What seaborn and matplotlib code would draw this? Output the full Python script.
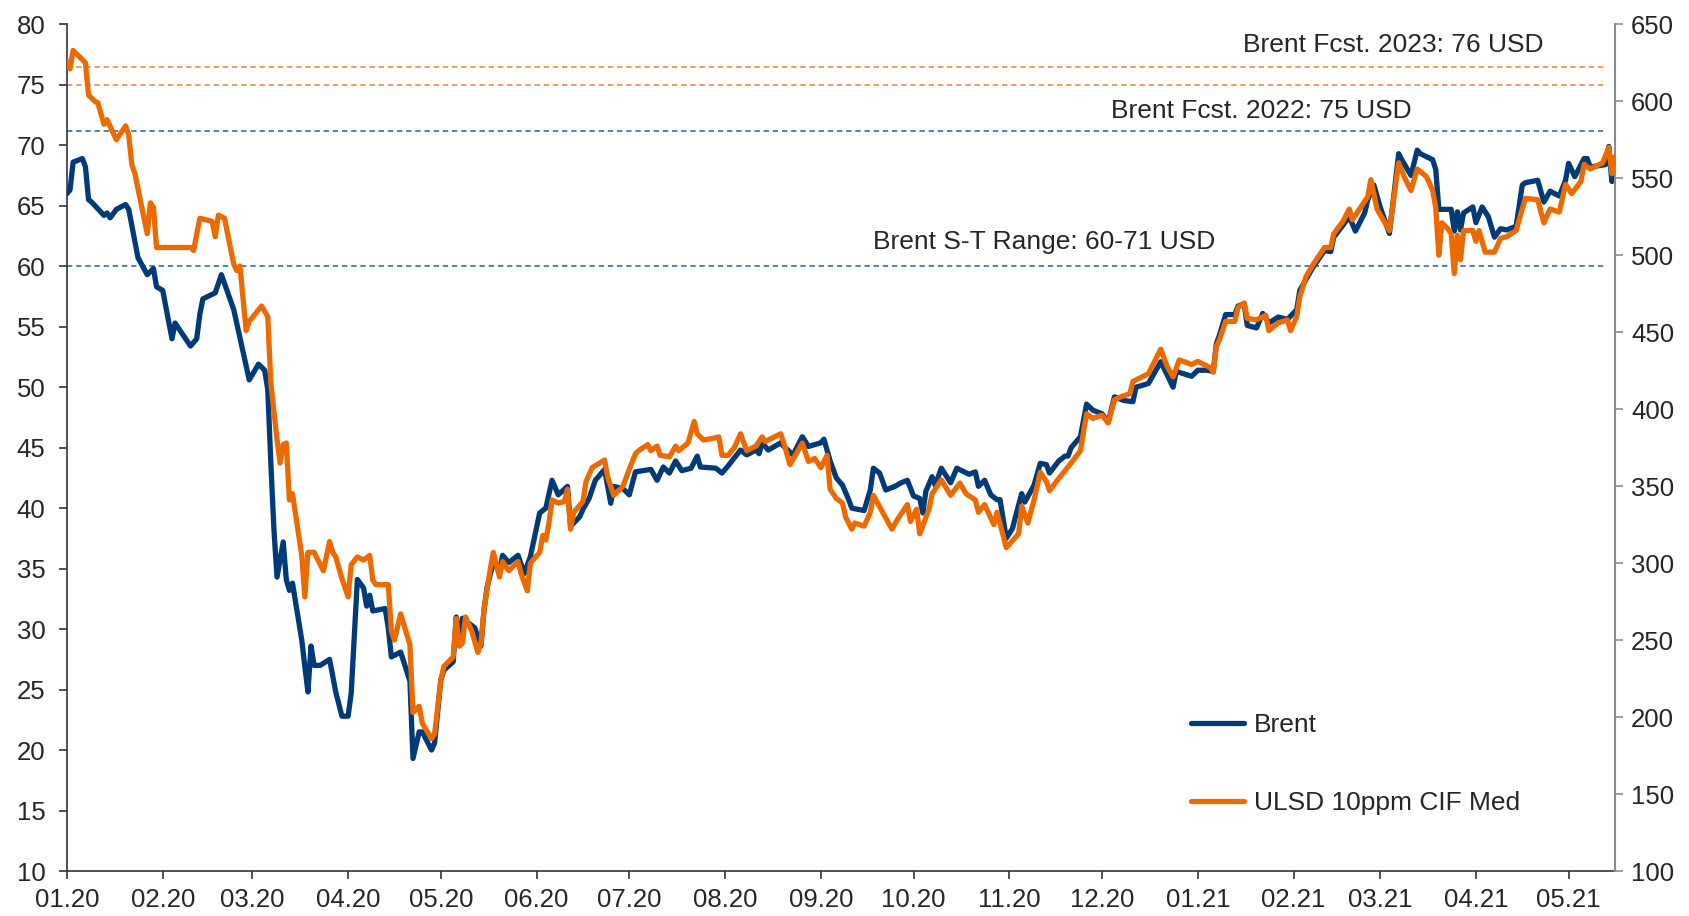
import pandas as pd
import seaborn as sns
import matplotlib.pyplot as plt
import matplotlib.dates as mdates

# Brent, USD/bbl (left axis)
brent_dates = [
    "2020-01-01", "2020-01-02", "2020-01-03", "2020-01-06", "2020-01-07", "2020-01-08", "2020-01-09",
    "2020-01-13", "2020-01-14", "2020-01-15", "2020-01-17", "2020-01-20", "2020-01-21", "2020-01-24",
    "2020-01-27", "2020-01-29", "2020-01-30", "2020-02-01", "2020-02-04", "2020-02-05", "2020-02-10",
    "2020-02-12", "2020-02-13", "2020-02-14", "2020-02-18", "2020-02-20", "2020-02-24", "2020-02-29",
    "2020-03-03", "2020-03-05", "2020-03-06", "2020-03-07", "2020-03-08", "2020-03-09", "2020-03-11",
    "2020-03-12", "2020-03-13", "2020-03-14", "2020-03-17", "2020-03-18", "2020-03-19", "2020-03-20",
    "2020-03-21", "2020-03-23", "2020-03-26", "2020-03-28", "2020-03-30", "2020-04-01", "2020-04-02",
    "2020-04-04", "2020-04-06", "2020-04-07", "2020-04-08", "2020-04-09", "2020-04-13", "2020-04-14",
    "2020-04-15", "2020-04-18", "2020-04-20", "2020-04-21", "2020-04-22", "2020-04-24", "2020-04-25",
    "2020-04-28", "2020-04-29", "2020-05-01", "2020-05-02", "2020-05-05", "2020-05-06", "2020-05-07",
    "2020-05-08", "2020-05-12", "2020-05-14", "2020-05-15", "2020-05-16", "2020-05-18", "2020-05-20",
    "2020-05-21", "2020-05-23", "2020-05-26", "2020-05-28", "2020-05-30", "2020-06-02", "2020-06-04",
    "2020-06-06", "2020-06-08", "2020-06-11", "2020-06-12", "2020-06-15", "2020-06-16", "2020-06-18",
    "2020-06-20", "2020-06-23", "2020-06-25", "2020-06-26", "2020-06-29", "2020-07-01", "2020-07-03",
    "2020-07-08", "2020-07-10", "2020-07-12", "2020-07-14", "2020-07-16", "2020-07-18", "2020-07-21",
    "2020-07-23", "2020-07-24", "2020-07-29", "2020-07-31", "2020-08-02", "2020-08-06", "2020-08-08",
    "2020-08-11", "2020-08-12", "2020-08-13", "2020-08-15", "2020-08-19", "2020-08-20", "2020-08-23",
    "2020-08-26", "2020-08-28", "2020-09-01", "2020-09-02", "2020-09-04", "2020-09-06", "2020-09-08",
    "2020-09-10", "2020-09-11", "2020-09-13", "2020-09-15", "2020-09-17", "2020-09-18", "2020-09-20",
    "2020-09-22", "2020-09-25", "2020-09-27", "2020-09-29", "2020-10-01", "2020-10-03", "2020-10-04",
    "2020-10-05", "2020-10-07", "2020-10-08", "2020-10-10", "2020-10-13", "2020-10-15", "2020-10-19",
    "2020-10-21", "2020-10-22", "2020-10-24", "2020-10-26", "2020-10-28", "2020-10-29", "2020-10-31",
    "2020-11-02", "2020-11-03", "2020-11-05", "2020-11-06", "2020-11-09", "2020-11-11", "2020-11-13",
    "2020-11-14", "2020-11-17", "2020-11-19", "2020-11-20", "2020-11-21", "2020-11-24", "2020-11-26",
    "2020-11-28", "2020-12-01", "2020-12-03", "2020-12-05", "2020-12-08", "2020-12-11", "2020-12-12",
    "2020-12-16", "2020-12-18", "2020-12-20", "2020-12-24", "2020-12-25", "2020-12-30", "2021-01-01",
    "2021-01-04", "2021-01-06", "2021-01-07", "2021-01-08", "2021-01-10", "2021-01-13", "2021-01-14",
    "2021-01-16", "2021-01-17", "2021-01-20", "2021-01-22", "2021-01-24", "2021-01-27", "2021-01-30",
    "2021-02-02", "2021-02-03", "2021-02-05", "2021-02-07", "2021-02-11", "2021-02-13", "2021-02-14",
    "2021-02-17", "2021-02-19", "2021-02-21", "2021-02-24", "2021-02-25", "2021-02-27", "2021-03-01",
    "2021-03-04", "2021-03-07", "2021-03-08", "2021-03-11", "2021-03-13", "2021-03-14", "2021-03-18",
    "2021-03-19", "2021-03-20", "2021-03-24", "2021-03-25", "2021-03-26", "2021-03-27", "2021-03-28",
    "2021-03-31", "2021-04-01", "2021-04-03", "2021-04-05", "2021-04-07", "2021-04-09", "2021-04-11",
    "2021-04-14", "2021-04-16", "2021-04-17", "2021-04-21", "2021-04-23", "2021-04-25", "2021-04-28",
    "2021-04-30", "2021-05-01", "2021-05-03", "2021-05-06", "2021-05-07", "2021-05-08", "2021-05-13",
    "2021-05-14", "2021-05-15", "2021-05-16",
]
brent_usd = [
    66.0, 66.3, 68.6, 68.9, 68.2, 65.5, 65.3,
    64.2, 64.4, 64.0, 64.7, 65.1, 64.7, 60.7,
    59.3, 59.8, 58.3, 58.0, 54.0, 55.3, 53.4,
    54.0, 56.0, 57.3, 57.8, 59.3, 56.4, 50.6,
    51.9, 51.4, 49.8, 43.7, 38.2, 34.3, 37.2,
    34.1, 33.2, 33.8, 29.1, 26.9, 24.8, 28.6,
    27.0, 27.0, 27.5, 24.8, 22.8, 22.8, 24.7,
    34.1, 33.4, 31.9, 32.8, 31.5, 31.7, 30.1,
    27.7, 28.1, 26.5, 25.7, 19.3, 21.5, 21.5,
    20.0, 20.6, 25.8, 26.6, 27.3, 31.0, 28.8,
    30.9, 30.1, 28.6, 31.6, 33.5, 35.5, 34.8,
    36.1, 35.5, 36.1, 34.6, 36.0, 39.6, 40.0,
    42.3, 41.1, 41.8, 38.5, 39.3, 39.9, 40.8,
    42.3, 43.2, 40.4, 41.8, 41.6, 41.1, 43.0,
    43.2, 42.3, 43.4, 42.9, 43.9, 43.1, 43.3,
    44.3, 43.4, 43.3, 42.9, 43.5, 44.8, 44.4,
    44.8, 44.5, 45.4, 44.8, 45.4, 45.1, 44.4,
    45.9, 45.1, 45.4, 45.7, 43.9, 42.5, 41.9,
    40.7, 40.0, 39.9, 39.8, 41.5, 43.3, 42.9,
    41.5, 41.8, 42.1, 42.3, 41.0, 40.8, 39.6,
    41.4, 42.6, 41.9, 43.3, 42.1, 43.3, 42.8,
    43.0, 41.8, 42.3, 41.1, 40.7, 40.7, 37.5,
    38.3, 39.3, 41.2, 40.5, 41.9, 43.7, 43.6,
    42.9, 43.9, 44.3, 44.3, 45.0, 45.9, 48.6,
    48.1, 47.8, 47.1, 49.2, 48.9, 48.8, 50.0,
    50.3, 51.2, 52.1, 50.0, 51.3, 50.9, 51.4,
    51.4, 51.3, 53.6, 54.3, 56.0, 56.0, 56.7,
    56.9, 55.1, 54.9, 56.1, 55.3, 55.8, 55.6,
    56.4, 58.0, 58.9, 59.8, 61.3, 61.2, 62.4,
    63.4, 64.1, 62.9, 64.4, 65.5, 66.7, 64.9,
    62.7, 69.3, 68.8, 67.5, 69.6, 69.3, 68.8,
    68.0, 64.7, 64.7, 62.9, 64.5, 63.0, 64.4,
    64.9, 63.6, 64.9, 64.1, 62.4, 63.1, 63.0,
    63.3, 66.7, 66.9, 67.1, 65.3, 66.2, 65.8,
    67.1, 68.5, 67.4, 68.9, 68.9, 68.2, 68.4,
    69.9, 67.0, 68.9,
]

# ULSD 10ppm CIF Med, USD/t (right axis)
ulsd_dates = [
    "2020-01-01", "2020-01-02", "2020-01-03", "2020-01-07", "2020-01-08", "2020-01-10", "2020-01-11",
    "2020-01-13", "2020-01-14", "2020-01-17", "2020-01-20", "2020-01-21", "2020-01-22", "2020-01-23",
    "2020-01-27", "2020-01-28", "2020-01-29", "2020-01-30", "2020-02-01", "2020-02-10", "2020-02-11",
    "2020-02-13", "2020-02-17", "2020-02-18", "2020-02-19", "2020-02-21", "2020-02-24", "2020-02-25",
    "2020-02-26", "2020-02-28", "2020-02-29", "2020-03-04", "2020-03-06", "2020-03-07", "2020-03-09",
    "2020-03-10", "2020-03-11", "2020-03-12", "2020-03-13", "2020-03-14", "2020-03-17", "2020-03-18",
    "2020-03-19", "2020-03-21", "2020-03-24", "2020-03-26", "2020-03-27", "2020-03-28", "2020-03-30",
    "2020-04-01", "2020-04-02", "2020-04-04", "2020-04-06", "2020-04-08", "2020-04-09", "2020-04-10",
    "2020-04-14", "2020-04-15", "2020-04-16", "2020-04-18", "2020-04-21", "2020-04-22", "2020-04-24",
    "2020-04-25", "2020-04-28", "2020-04-29", "2020-05-01", "2020-05-02", "2020-05-05", "2020-05-06",
    "2020-05-07", "2020-05-08", "2020-05-09", "2020-05-11", "2020-05-13", "2020-05-14", "2020-05-15",
    "2020-05-17", "2020-05-18", "2020-05-20", "2020-05-21", "2020-05-23", "2020-05-26", "2020-05-27",
    "2020-05-29", "2020-05-30", "2020-06-02", "2020-06-03", "2020-06-04", "2020-06-05", "2020-06-06",
    "2020-06-08", "2020-06-10", "2020-06-11", "2020-06-12", "2020-06-13", "2020-06-16", "2020-06-17",
    "2020-06-19", "2020-06-23", "2020-06-24", "2020-06-26", "2020-06-29", "2020-07-01", "2020-07-03",
    "2020-07-04", "2020-07-07", "2020-07-08", "2020-07-10", "2020-07-11", "2020-07-14", "2020-07-16",
    "2020-07-17", "2020-07-20", "2020-07-22", "2020-07-23", "2020-07-25", "2020-07-28", "2020-07-30",
    "2020-07-31", "2020-08-02", "2020-08-04", "2020-08-06", "2020-08-08", "2020-08-11", "2020-08-13",
    "2020-08-14", "2020-08-19", "2020-08-20", "2020-08-22", "2020-08-26", "2020-08-28", "2020-08-30",
    "2020-09-01", "2020-09-03", "2020-09-04", "2020-09-06", "2020-09-08", "2020-09-09", "2020-09-11",
    "2020-09-12", "2020-09-15", "2020-09-17", "2020-09-18", "2020-09-21", "2020-09-24", "2020-09-26",
    "2020-09-29", "2020-09-30", "2020-10-02", "2020-10-03", "2020-10-06", "2020-10-07", "2020-10-10",
    "2020-10-13", "2020-10-16", "2020-10-18", "2020-10-21", "2020-10-22", "2020-10-24", "2020-10-27",
    "2020-10-28", "2020-10-30", "2020-10-31", "2020-11-04", "2020-11-05", "2020-11-07", "2020-11-09",
    "2020-11-11", "2020-11-13", "2020-11-14", "2020-11-17", "2020-11-21", "2020-11-24", "2020-11-26",
    "2020-11-28", "2020-12-01", "2020-12-03", "2020-12-05", "2020-12-07", "2020-12-10", "2020-12-11",
    "2020-12-16", "2020-12-20", "2020-12-22", "2020-12-24", "2020-12-26", "2020-12-30", "2021-01-01",
    "2021-01-05", "2021-01-06", "2021-01-07", "2021-01-08", "2021-01-10", "2021-01-13", "2021-01-14",
    "2021-01-16", "2021-01-17", "2021-01-20", "2021-01-23", "2021-01-24", "2021-01-27", "2021-01-30",
    "2021-01-31", "2021-02-02", "2021-02-03", "2021-02-05", "2021-02-07", "2021-02-11", "2021-02-13",
    "2021-02-14", "2021-02-17", "2021-02-19", "2021-02-20", "2021-02-24", "2021-02-25", "2021-02-26",
    "2021-02-28", "2021-03-04", "2021-03-07", "2021-03-09", "2021-03-11", "2021-03-13", "2021-03-16",
    "2021-03-18", "2021-03-19", "2021-03-20", "2021-03-21", "2021-03-23", "2021-03-24", "2021-03-25",
    "2021-03-26", "2021-03-27", "2021-03-28", "2021-03-31", "2021-04-01", "2021-04-02", "2021-04-04",
    "2021-04-07", "2021-04-09", "2021-04-11", "2021-04-14", "2021-04-17", "2021-04-21", "2021-04-23",
    "2021-04-25", "2021-04-28", "2021-04-30", "2021-05-02", "2021-05-05", "2021-05-06", "2021-05-08",
    "2021-05-12", "2021-05-14", "2021-05-15", "2021-05-16",
]
ulsd_usd_t = [
    626, 621, 633, 625, 604, 600, 599,
    585, 588, 575, 584, 578, 559, 553,
    514, 534, 531, 505, 505, 505, 503,
    524, 522, 512, 526, 524, 494, 490,
    493, 451, 457, 467, 460, 417, 380,
    365, 377, 378, 341, 345, 305, 278,
    307, 307, 295, 314, 307, 304, 290,
    278, 299, 304, 302, 305, 289, 286,
    286, 256, 250, 267, 247, 203, 207,
    196, 186, 189, 224, 233, 239, 264,
    246, 248, 265, 256, 242, 248, 270,
    296, 307, 291, 301, 295, 301, 293,
    282, 300, 307, 318, 315, 326, 341,
    339, 340, 348, 322, 333, 340, 353,
    362, 367, 356, 344, 350, 361, 371,
    373, 377, 373, 376, 370, 369, 376,
    373, 378, 392, 384, 380, 381, 382,
    370, 370, 375, 384, 373, 376, 382,
    379, 384, 378, 364, 378, 366, 368,
    362, 370, 348, 342, 339, 330, 322,
    326, 324, 333, 344, 333, 322, 329,
    338, 327, 335, 319, 335, 345, 354,
    344, 352, 345, 341, 333, 338, 325,
    333, 318, 310, 319, 337, 326, 341,
    359, 353, 347, 355, 365, 373, 397,
    394, 396, 391, 406, 408, 410, 418,
    423, 439, 428, 421, 432, 429, 431,
    427, 424, 441, 445, 457, 457, 466,
    469, 459, 458, 461, 451, 456, 458,
    451, 460, 473, 486, 493, 505, 505,
    514, 522, 530, 523, 535, 538, 549,
    530, 516, 560, 550, 542, 556, 551,
    542, 531, 500, 521, 517, 514, 488,
    513, 497, 516, 516, 509, 516, 502,
    502, 511, 512, 516, 537, 536, 521,
    530, 528, 546, 540, 548, 559, 556,
    560, 570, 553, 564,
]

# reference levels (left axis, USD/bbl) and their captions
ref_levels = [76.5, 75.0, 71.2, 60.0]
ref_colors = ["#F0802A", "#F0802A", "#2E5C98", "#2E5C98"]
captions = ["Brent Fcst. 2023: 76 USD", "Brent Fcst. 2022: 75 USD", "Brent S-T Range: 60-71 USD"]

BLUE = "#003A78"
ORANGE = "#EC6A00"

sns.set_style("white")
plt.rcParams["font.family"] = ["Liberation Sans", "DejaVu Sans"]

brent = pd.DataFrame({"date": pd.to_datetime(brent_dates), "value": brent_usd})
ulsd = pd.DataFrame({"date": pd.to_datetime(ulsd_dates), "value": ulsd_usd_t})

fig = plt.figure(figsize=(16.9, 9.16), dpi=100)
ax = fig.add_axes([0.0396, 0.0491, 0.9160, 0.9244])
ax2 = ax.twinx()

for lvl, col in zip(ref_levels, ref_colors):
    ax.axhline(lvl, xmin=0, xmax=0.995, color=col, lw=1.1, ls=(0, (3.5, 2.5)), zorder=1)

sns.lineplot(data=brent, x="date", y="value", ax=ax, color=BLUE, lw=3.8, legend=False, zorder=3)
line_b = ax.lines[-1]
sns.lineplot(data=ulsd, x="date", y="value", ax=ax2, color=ORANGE, lw=3.8, legend=False, zorder=3)
line_u = ax2.lines[-1]

ax.set_ylim(10, 80)
ax.set_yticks(range(10, 81, 5))
ax2.set_ylim(100, 650)
ax2.set_yticks(range(100, 651, 50))
ax.set_xlim(pd.Timestamp("2020-01-01"), pd.Timestamp("2021-05-16"))
ax.xaxis.set_major_locator(mdates.MonthLocator())
ax.xaxis.set_major_formatter(mdates.DateFormatter("%m.%y"))

for a in (ax, ax2):
    a.set_xlabel("")
    a.set_ylabel("")
    a.grid(False)
    a.spines["top"].set_visible(False)
ax.spines["right"].set_visible(False)
ax2.spines["left"].set_visible(False)
ax2.spines["bottom"].set_visible(False)
ax.spines["left"].set_color("#333333")
ax.spines["bottom"].set_color("#333333")
ax2.spines["right"].set_color("#8C8C8C")
for s in ("left", "bottom"):
    ax.spines[s].set_linewidth(1.2)
ax2.spines["right"].set_linewidth(1.5)

ax.tick_params(axis="y", direction="out", length=5.5, width=1.2, color="#333333",
               labelsize=18.5, pad=10, left=True)
ax.tick_params(axis="x", direction="out", length=5.5, width=1.2, color="#333333",
               labelsize=18.5, pad=7, bottom=True)
ax2.tick_params(axis="y", direction="out", length=5.5, width=1.2, color="#8C8C8C",
                labelsize=18.5, pad=6, right=True)

ax.text(0.8566, 0.975, captions[0], transform=ax.transAxes, ha="center", va="center", fontsize=19)
ax.text(0.7713, 0.897, captions[1], transform=ax.transAxes, ha="center", va="center", fontsize=19)
ax.text(0.6311, 0.7425, captions[2], transform=ax.transAxes, ha="center", va="center", fontsize=19)

ax2.legend([line_b, line_u], ["Brent", "ULSD 10ppm CIF Med"], loc="upper left",
           bbox_to_anchor=(0.7047, 0.2215), bbox_transform=fig.transFigure,
           frameon=False, fontsize=19, handlelength=2.0, handletextpad=0.4,
           labelspacing=2.05, borderpad=0, borderaxespad=0)

fig.savefig("out.png", dpi=100)
